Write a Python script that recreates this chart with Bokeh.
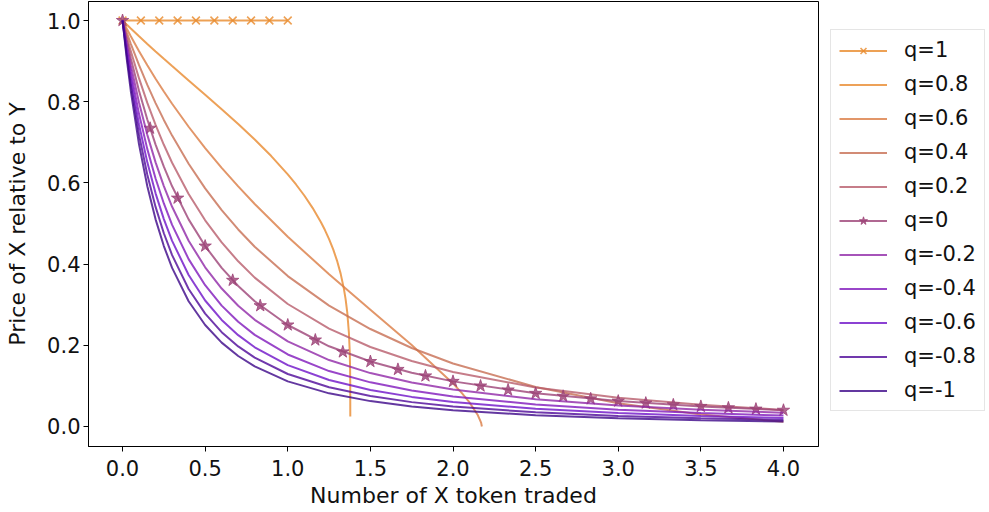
from bokeh.plotting import figure
from bokeh.layouts import row
from bokeh.models import Range1d, FixedTicker, PrintfTickFormatter, Legend, LegendItem
from bokeh.embed import file_html
from bokeh.resources import INLINE

# ---------------- data ----------------
labels = ["q=1", "q=0.8", "q=0.6", "q=0.4", "q=0.2", "q=0",
          "q=-0.2", "q=-0.4", "q=-0.6", "q=-0.8", "q=-1"]

# number of X token traded (shared grid for q <= 0.4)
x_grid = [0, 0.025, 0.05, 0.1, 0.15, 0.2, 0.25, 0.3, 0.4, 0.5, 0.6, 0.7, 0.8,
          1.0, 1.25, 1.5, 1.75, 2.0, 2.5, 3.0, 3.5, 4.0]

x_q1 = [0, 0.1111, 0.2222, 0.3333, 0.4444, 0.5556, 0.6667, 0.7778, 0.8889, 1.0]
y_q1 = [1.0, 1.0, 1.0, 1.0, 1.0, 1.0, 1.0, 1.0, 1.0, 1.0]

x_q08 = [0, 0.025, 0.05, 0.1, 0.15, 0.2, 0.25, 0.3, 0.4, 0.5, 0.6, 0.7, 0.8,
         0.9, 1.0, 1.05, 1.1, 1.15, 1.2, 1.225, 1.25, 1.275, 1.3, 1.32, 1.34,
         1.35, 1.36, 1.37, 1.375, 1.377, 1.378, 1.3784]
y_q08 = [1.0, 0.9901, 0.9803, 0.9611, 0.9423, 0.9239, 0.9057, 0.8878, 0.8524,
         0.8172, 0.7816, 0.7451, 0.7069, 0.6661, 0.6210, 0.5961, 0.5689, 0.5385,
         0.5037, 0.4838, 0.4616, 0.4362, 0.4060, 0.3765, 0.3384, 0.3135, 0.2810,
         0.2308, 0.1841, 0.1477, 0.1087, 0.0246]

x_q06 = [0, 0.025, 0.05, 0.1, 0.15, 0.2, 0.25, 0.3, 0.4, 0.5, 0.6, 0.7, 0.8,
         1.0, 1.25, 1.5, 1.75, 2.0, 2.05, 2.1, 2.15, 2.17, 2.1748]
y_q06 = [1.0, 0.9803, 0.9612, 0.9244, 0.8896, 0.8566, 0.8250, 0.7949, 0.7383,
         0.6859, 0.6371, 0.5913, 0.5480, 0.4674, 0.3748, 0.2875, 0.2008, 0.1061,
         0.0840, 0.0592, 0.0281, 0.0094, 0.0]

y_q04 = [1.0, 0.9707, 0.9426, 0.8899, 0.8414, 0.7966, 0.7551, 0.7165, 0.6471,
         0.5864, 0.5328, 0.4853, 0.4428, 0.3704, 0.2978, 0.2401, 0.1934, 0.1552,
         0.0974, 0.0573, 0.0297, 0.0114]
y_q02 = [1.0, 0.9612, 0.9245, 0.8573, 0.7970, 0.7429, 0.6939, 0.6496, 0.5725,
         0.5079, 0.4534, 0.4068, 0.3667, 0.3017, 0.2409, 0.1957, 0.1612, 0.1344,
         0.0961, 0.0707, 0.0533, 0.0408]
y_q0 = [1.0, 0.9518, 0.9070, 0.8264, 0.7561, 0.6944, 0.6400, 0.5917, 0.5102,
        0.4444, 0.3906, 0.3460, 0.3086, 0.2500, 0.1975, 0.1600, 0.1322, 0.1111,
        0.0816, 0.0625, 0.0494, 0.0400]
y_qm02 = [1.0, 0.9426, 0.8900, 0.7972, 0.7183, 0.6506, 0.5921, 0.5412, 0.4575,
          0.3920, 0.3398, 0.2975, 0.2628, 0.2097, 0.1636, 0.1315, 0.1083, 0.0909,
          0.0669, 0.0516, 0.0411, 0.0337]
y_qm04 = [1.0, 0.9335, 0.8734, 0.7695, 0.6832, 0.6107, 0.5493, 0.4967, 0.4122,
          0.3479, 0.2977, 0.2579, 0.2257, 0.1774, 0.1365, 0.1087, 0.0888, 0.0741,
          0.0541, 0.0415, 0.0330, 0.0270]
y_qm06 = [1.0, 0.9246, 0.8574, 0.7432, 0.6506, 0.5743, 0.5108, 0.4573, 0.3730,
          0.3103, 0.2624, 0.2249, 0.1951, 0.1511, 0.1146, 0.0901, 0.0729, 0.0603,
          0.0435, 0.0330, 0.0260, 0.0211]
y_qm08 = [1.0, 0.9157, 0.8417, 0.7182, 0.6201, 0.5409, 0.4760, 0.4222, 0.3388,
          0.2780, 0.2324, 0.1972, 0.1695, 0.1293, 0.0966, 0.0750, 0.0600, 0.0491,
          0.0348, 0.0260, 0.0202, 0.0162]
y_qm1 = [1.0, 0.9070, 0.8264, 0.6944, 0.5917, 0.5102, 0.4444, 0.3906, 0.3086,
         0.2500, 0.2066, 0.1736, 0.1479, 0.1111, 0.0816, 0.0625, 0.0494, 0.0400,
         0.0278, 0.0204, 0.0156, 0.0123]

# star markers on the q=0 curve
x_q0_stars = [0, 0.1667, 0.3333, 0.5, 0.6667, 0.8333, 1.0, 1.1667, 1.3333, 1.5,
              1.6667, 1.8333, 2.0, 2.1667, 2.3333, 2.5, 2.6667, 2.8333, 3.0,
              3.1667, 3.3333, 3.5, 3.6667, 3.8333, 4.0]
y_q0_stars = [1.0, 0.7347, 0.5625, 0.4444, 0.3600, 0.2975, 0.2500, 0.2130, 0.1837,
              0.1600, 0.1406, 0.1246, 0.1111, 0.0997, 0.0900, 0.0816, 0.0744,
              0.0681, 0.0625, 0.0576, 0.0533, 0.0494, 0.0459, 0.0428, 0.0400]

x_ticks = [0, 0.5, 1.0, 1.5, 2.0, 2.5, 3.0, 3.5, 4.0]
y_ticks = [0, 0.2, 0.4, 0.6, 0.8, 1.0]

series_x = [x_q1, x_q08, x_q06] + [x_grid] * 8
series_y = [y_q1, y_q08, y_q06, y_q04, y_q02, y_q0, y_qm02, y_qm04, y_qm06, y_qm08, y_qm1]

# ---------------- styles ----------------
colors = ["#E88A2A", "#E8892E", "#DB7C44", "#C76E52", "#B85C6C", "#9C4277",
          "#9028A8", "#8018BC", "#6E12C8", "#4E0898", "#3C0688"]
FONT = "DejaVu Sans"

p = figure(width=819, height=512, output_backend="svg", toolbar_location=None,
           x_range=Range1d(-0.206, 4.212), y_range=Range1d(-0.0493, 1.0468),
           min_border_left=88, min_border_right=1, min_border_top=1,
           min_border_bottom=66)
p.xgrid.visible = False
p.ygrid.visible = False
p.background_fill_color = "white"
p.border_fill_color = "white"
p.outline_line_color = "black"
p.outline_line_width = 1
p.outline_line_alpha = 1

for ax in (p.xaxis[0], p.yaxis[0]):
    ax.major_tick_out = 5
    ax.major_tick_in = 0
    ax.minor_tick_out = 0
    ax.minor_tick_in = 0
    ax.axis_line_color = "black"
    ax.major_tick_line_color = "black"
    ax.major_label_text_font = FONT
    ax.major_label_text_font_size = "21px"
    ax.major_label_text_color = "#111111"
    ax.axis_label_text_font = FONT
    ax.axis_label_text_font_size = "22px"
    ax.axis_label_text_font_style = "normal"
    ax.axis_label_text_color = "#111111"

p.xaxis[0].major_label_standoff = 8
p.xaxis[0].axis_label_standoff = 4
p.yaxis[0].major_label_standoff = 3
p.yaxis[0].axis_label_standoff = 14

p.xaxis[0].ticker = FixedTicker(ticks=x_ticks)
p.yaxis[0].ticker = FixedTicker(ticks=y_ticks)
p.xaxis[0].formatter = PrintfTickFormatter(format="%.1f")
p.yaxis[0].formatter = PrintfTickFormatter(format="%.1f")
p.xaxis[0].axis_label = "Number of X token traded"
p.yaxis[0].axis_label = "Price of X relative to Y"

# legend lives in a narrow companion figure to the right of the axes
pl = figure(width=170, height=512, output_backend="svg", toolbar_location=None,
            x_range=Range1d(0, 1), y_range=Range1d(0, 1),
            min_border_left=0, min_border_right=0, min_border_top=0,
            min_border_bottom=0)
pl.axis.visible = False
pl.xgrid.visible = False
pl.ygrid.visible = False
pl.outline_line_color = None
pl.background_fill_color = "white"
pl.border_fill_color = "white"

# legend key glyphs are placed off-screen (outside the 0..1 ranges)
key_x = [-5.0, -5.0]
key_y = [-5.0, -5.0]

items = []
for i, (lab, xs, ys) in enumerate(zip(labels, series_x, series_y)):
    c = colors[i]
    p.line(xs, ys, line_color=c, line_width=2, line_alpha=0.8)
    leg = [pl.line(key_x, key_y, line_color=c, line_width=2, line_alpha=0.8)]
    if lab == "q=1":
        p.scatter(xs, ys, marker="x", size=11, line_color=c,
                  line_width=1.6, line_alpha=0.8)
        leg.append(pl.scatter(key_x, key_y, marker="x", size=11, line_color=c,
                              line_width=1.6, line_alpha=0.8))
    if lab == "q=0":
        p.scatter(x_q0_stars, y_q0_stars, marker="star", size=13,
                  fill_color=c, line_color=c, fill_alpha=0.8, line_alpha=0.8)
        leg.append(pl.scatter(key_x, key_y, marker="star", size=13, fill_color=c,
                              line_color=c, fill_alpha=0.8, line_alpha=0.8))
    items.append(LegendItem(label=lab, renderers=leg))

legend = Legend(items=items, location=(11, 35))
legend.margin = 0
legend.padding = 8
legend.spacing = 10
legend.glyph_width = 48
legend.glyph_height = 21
legend.label_height = 21
legend.label_standoff = 17
legend.label_text_font = FONT
legend.label_text_font_size = "21px"
legend.label_text_color = "#111111"
legend.border_line_color = "#cccccc"
legend.border_line_width = 1
legend.background_fill_color = "white"
legend.background_fill_alpha = 0.9
pl.add_layout(legend, "center")

layout = row(p, pl)
open("out.html", "w").write(file_html(layout, INLINE))
